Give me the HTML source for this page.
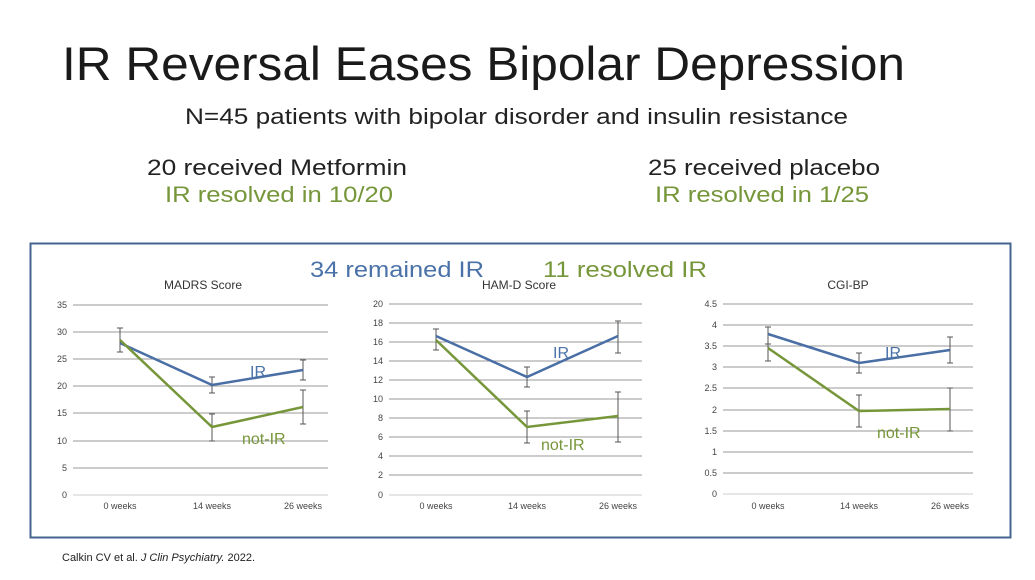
<!DOCTYPE html>
<html><head><meta charset="utf-8"><style>
body{margin:0;background:#fff;}
svg{display:block;font-family:"Liberation Sans",sans-serif;}
</style></head><body>
<svg width="1035" height="580" viewBox="0 0 1035 580" xmlns="http://www.w3.org/2000/svg">
<rect width="1035" height="580" fill="#fff"/>
<text x="62" y="80" font-size="47" fill="#1a1a1a" textLength="843" lengthAdjust="spacingAndGlyphs">IR Reversal Eases Bipolar Depression</text>
<text x="185" y="124" font-size="22" fill="#222" textLength="663" lengthAdjust="spacingAndGlyphs">N=45 patients with bipolar disorder and insulin resistance</text>
<text x="147" y="175" font-size="22" fill="#222" textLength="260" lengthAdjust="spacingAndGlyphs">20 received Metformin</text>
<text x="165" y="202" font-size="22" fill="#76963a" textLength="228" lengthAdjust="spacingAndGlyphs">IR resolved in 10/20</text>
<text x="648" y="175" font-size="22" fill="#222" textLength="232" lengthAdjust="spacingAndGlyphs">25 received placebo</text>
<text x="655" y="202" font-size="22" fill="#76963a" textLength="214" lengthAdjust="spacingAndGlyphs">IR resolved in 1/25</text>
<rect x="30.5" y="243.5" width="980" height="294" fill="none" stroke="#44648f" stroke-width="2"/>
<text x="310" y="277" font-size="22" fill="#4a72a8" textLength="174" lengthAdjust="spacingAndGlyphs">34 remained IR</text>
<text x="543" y="277" font-size="22" fill="#76963a" textLength="164" lengthAdjust="spacingAndGlyphs">11 resolved IR</text>

<g font-size="9" fill="#444">
<!-- MADRS -->
<text x="203" y="289" font-size="12" text-anchor="middle" fill="#333">MADRS Score</text>
<g stroke="#999" stroke-width="1">
<line x1="73" x2="328" y1="305" y2="305"/><line x1="73" x2="328" y1="332" y2="332"/><line x1="73" x2="328" y1="359" y2="359"/><line x1="73" x2="328" y1="386" y2="386"/><line x1="73" x2="328" y1="413" y2="413"/><line x1="73" x2="328" y1="441" y2="441"/><line x1="73" x2="328" y1="468" y2="468"/><line x1="73" x2="328" y1="495" y2="495" stroke="#ccc"/>
</g>
<g text-anchor="end"><text x="67" y="308">35</text><text x="67" y="335">30</text><text x="67" y="362">25</text><text x="67" y="389">20</text><text x="67" y="416">15</text><text x="67" y="444">10</text><text x="67" y="471">5</text><text x="67" y="498">0</text></g>
<g text-anchor="middle"><text x="120" y="509">0 weeks</text><text x="212" y="509">14 weeks</text><text x="303" y="509">26 weeks</text></g>
<g stroke="#555" stroke-width="1"><path d="M120 328V352M117 328h6M117 352h6M212 377V393M209 377h6M209 393h6M303 360V380M300 360h6M300 380h6M120 336V351M212 414V441M209 414h6M209 441h6M303 390V424M300 390h6M300 424h6"/></g>
<polyline points="120,343 212,385 303,370" fill="none" stroke="#4a6fa5" stroke-width="2.5"/>
<polyline points="120,340 212,427 303,407" fill="none" stroke="#76963a" stroke-width="2.5"/>
<text x="250" y="377" font-size="16" fill="#4a72a8">IR</text>
<text x="242" y="444" font-size="16" fill="#76963a">not-IR</text>

<!-- HAM-D -->
<text x="519" y="289" font-size="12" text-anchor="middle" fill="#333">HAM-D Score</text>
<g stroke="#999" stroke-width="1">
<line x1="389" x2="642" y1="304" y2="304"/><line x1="389" x2="642" y1="323" y2="323"/><line x1="389" x2="642" y1="342" y2="342"/><line x1="389" x2="642" y1="361" y2="361"/><line x1="389" x2="642" y1="380" y2="380"/><line x1="389" x2="642" y1="399" y2="399"/><line x1="389" x2="642" y1="418" y2="418"/><line x1="389" x2="642" y1="437" y2="437"/><line x1="389" x2="642" y1="456" y2="456"/><line x1="389" x2="642" y1="475" y2="475"/><line x1="389" x2="642" y1="495" y2="495" stroke="#ccc"/>
</g>
<g text-anchor="end"><text x="383" y="307">20</text><text x="383" y="326">18</text><text x="383" y="345">16</text><text x="383" y="364">14</text><text x="383" y="383">12</text><text x="383" y="402">10</text><text x="383" y="421">8</text><text x="383" y="440">6</text><text x="383" y="459">4</text><text x="383" y="478">2</text><text x="383" y="498">0</text></g>
<g text-anchor="middle"><text x="436" y="509">0 weeks</text><text x="527" y="509">14 weeks</text><text x="618" y="509">26 weeks</text></g>
<g stroke="#555" stroke-width="1"><path d="M436 329V350M433 329h6M433 350h6M527 367V387M524 367h6M524 387h6M618 321V353M615 321h6M615 353h6M527 411V443M524 411h6M524 443h6M618 392V442M615 392h6M615 442h6"/></g>
<polyline points="436,336 527,377 618,336" fill="none" stroke="#4a6fa5" stroke-width="2.5"/>
<polyline points="436,340 527,427 618,416" fill="none" stroke="#76963a" stroke-width="2.5"/>
<text x="553" y="358" font-size="16" fill="#4a72a8">IR</text>
<text x="541" y="450" font-size="16" fill="#76963a">not-IR</text>

<!-- CGI -->
<text x="848" y="289" font-size="12" text-anchor="middle" fill="#333">CGI-BP</text>
<g stroke="#999" stroke-width="1">
<line x1="723" x2="973" y1="304" y2="304"/><line x1="723" x2="973" y1="325" y2="325"/><line x1="723" x2="973" y1="346" y2="346"/><line x1="723" x2="973" y1="367" y2="367"/><line x1="723" x2="973" y1="388" y2="388"/><line x1="723" x2="973" y1="410" y2="410"/><line x1="723" x2="973" y1="431" y2="431"/><line x1="723" x2="973" y1="452" y2="452"/><line x1="723" x2="973" y1="473" y2="473"/><line x1="723" x2="973" y1="494" y2="494" stroke="#ccc"/>
</g>
<g text-anchor="end"><text x="717" y="307">4.5</text><text x="717" y="328">4</text><text x="717" y="349">3.5</text><text x="717" y="370">3</text><text x="717" y="391">2.5</text><text x="717" y="413">2</text><text x="717" y="434">1.5</text><text x="717" y="455">1</text><text x="717" y="476">0.5</text><text x="717" y="497">0</text></g>
<g text-anchor="middle"><text x="768" y="509">0 weeks</text><text x="859" y="509">14 weeks</text><text x="950" y="509">26 weeks</text></g>
<g stroke="#555" stroke-width="1"><path d="M768 327V344M765 327h6M765 344h6M859 353V373M856 353h6M856 373h6M950 337V363M947 337h6M947 363h6M768 341V361M765 361h6M859 395V427M856 395h6M856 427h6M950 388V431M947 388h6M947 431h6"/></g>
<polyline points="768,334 859,363 950,350" fill="none" stroke="#4a6fa5" stroke-width="2.5"/>
<polyline points="768,348 859,411 950,409" fill="none" stroke="#76963a" stroke-width="2.5"/>
<text x="885" y="358" font-size="16" fill="#4a72a8">IR</text>
<text x="877" y="438" font-size="16" fill="#76963a">not-IR</text>
</g>

<text x="62" y="561" font-size="11" fill="#222">Calkin CV et al. <tspan font-style="italic">J Clin Psychiatry.</tspan> 2022.</text>
</svg>
</body></html>
